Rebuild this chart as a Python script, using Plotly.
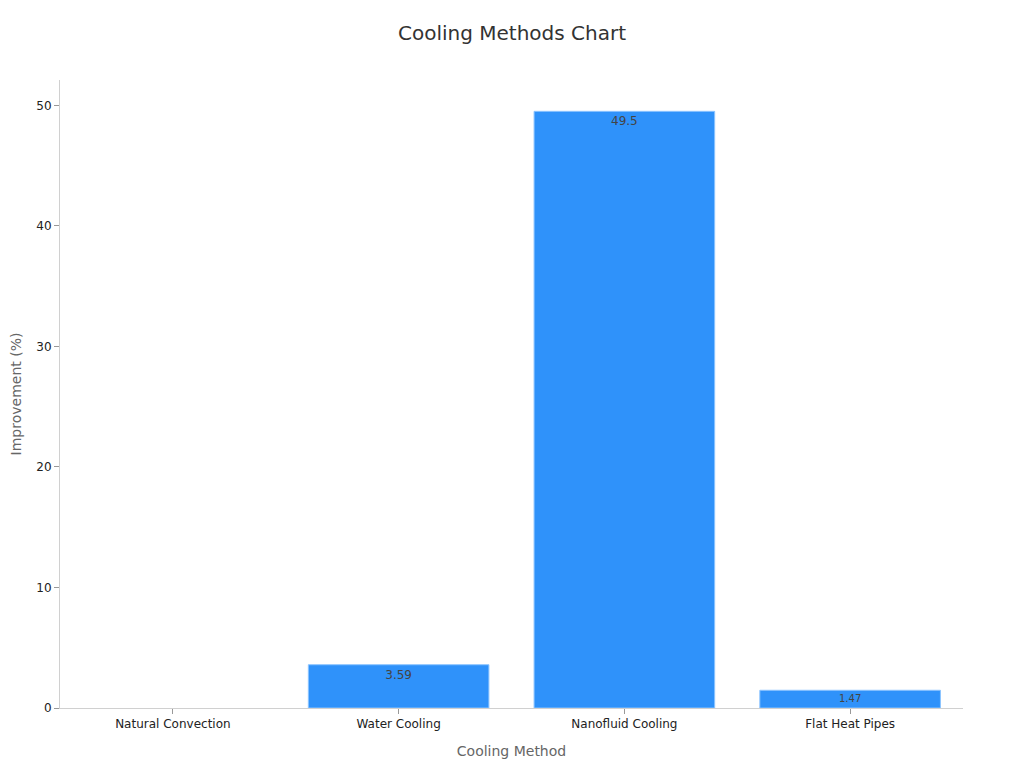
import plotly.graph_objects as go

# Cooling method improvement data
methods = ["Natural Convection", "Water Cooling", "Nanofluid Cooling", "Flat Heat Pipes"]
improvement = [0, 3.59, 49.5, 1.47]
labels = ["", "3.59", "49.5", "1.47"]
# no outline on the zero-height bar
outline_widths = [0, 1, 1, 1]
label_sizes = [12, 12, 12, 10]

fig = go.Figure()
fig.add_trace(go.Bar(
    x=methods,
    y=improvement,
    text=labels,
    textposition="inside",
    insidetextanchor="end",
    textfont=dict(color="#444444", size=label_sizes),
    marker=dict(color="#2F92FA", line=dict(color="#8CC4FF", width=outline_widths)),
))

fig.update_layout(
    width=1024,
    height=768,
    title=dict(text="Cooling Methods Chart", x=0.4922, y=0.9674, xanchor="center", yanchor="middle",
               font=dict(size=20, color="#333333")),
    font=dict(family="DejaVu Sans", color="#333333"),
    paper_bgcolor="white",
    plot_bgcolor="white",
    margin=dict(l=52, r=69, t=72, b=68),
    bargap=0.2,
    showlegend=False,
    xaxis=dict(
        title=dict(text="Cooling Method", font=dict(size=14, color="#666666"), standoff=15),
        showline=True, linecolor="#d0d0d0", linewidth=1,
        ticks="outside", tickcolor="#999999", ticklen=5,
        tickfont=dict(size=12, color="#222222"),
        showgrid=False,
    ),
    yaxis=dict(
        title=dict(text="Improvement (%)", font=dict(size=14, color="#666666"), standoff=19),
        automargin=False,
        range=[0, 52.1],
        dtick=10,
        showline=True, linecolor="#d0d0d0", linewidth=1,
        ticks="outside", tickcolor="#999999", ticklen=5,
        tickfont=dict(size=12, color="#222222"),
        showgrid=False, zeroline=False,
    ),
)

fig.write_html("out.html")
